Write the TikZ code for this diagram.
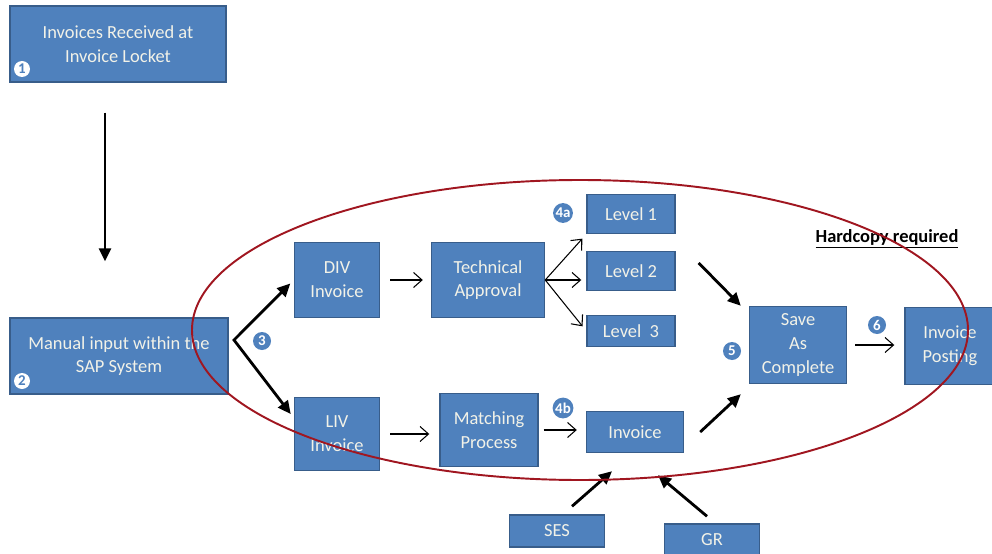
\documentclass[tikz,border=0pt]{standalone}
\usepackage{fontspec}
\setmainfont{Carlito}
\usepackage{tikz}
\usetikzlibrary{arrows.meta, positioning, shapes.geometric}

\definecolor{boxblue}{RGB}{79,129,189}
\definecolor{boxedge}{RGB}{56,93,138}
\definecolor{boxtext}{RGB}{242,242,232}
\definecolor{ringred}{RGB}{160,22,32}

\tikzset{
  box/.style={draw=boxedge, line width=0.8pt, fill=boxblue, text=boxtext, align=center,
    font=\fontsize{10.5}{13.5}\selectfont, inner sep=1pt},
  badge/.style={circle, fill=boxblue, text=white, inner sep=0.4pt, minimum size=0.36cm,
    font=\fontsize{8.5}{9}\selectfont\bfseries},
  wbadge/.style={circle, fill=white, text=boxblue, inner sep=0pt, minimum size=0.32cm,
    font=\fontsize{8.5}{9}\selectfont\bfseries},
  fat/.style={line width=1.6pt, -{Triangle[length=2.6mm,width=2.4mm]}},
  thin/.style={line width=0.6pt, -{Straight Barb[length=1.7mm,width=3mm]}},
}

\begin{document}
\begin{tikzpicture}[node distance=2cm, on grid]
  \useasboundingbox (0,0) rectangle (19.84,-11.06);
  \clip (0,0) rectangle (19.84,-11.06);

  % entry boxes
  \node[box, minimum width=4.32cm, minimum height=1.52cm] (recv) at (2.36,-0.88) {Invoices Received at\\Invoice Locket};
  \node[box, minimum width=4.36cm, minimum height=1.52cm] (manual) at (2.38,-7.12) {Manual input within the\\SAP System};
  \node[wbadge] (n1) at (0.44,-1.38) {1};
  \node[wbadge] (n2) at (0.44,-7.62) {2};

  % DIV branch
  \node[box, minimum width=1.7cm, minimum height=1.5cm] (div) at (6.74,-5.6) {DIV\\Invoice};
  \node[box, minimum width=2.26cm, minimum height=1.5cm] (tech) [right=3.02cm of div] {Technical\\Approval};
  \node[box, minimum width=1.76cm, minimum height=0.78cm] (lev1) at (12.62,-4.28) {Level 1};
  \node[box, minimum width=1.76cm, minimum height=0.78cm] (lev2) [below=1.14cm of lev1] {Level 2};
  \node[box, minimum width=1.76cm, minimum height=0.62cm] (lev3) [below=1.2cm of lev2] {Level~ 3};

  % LIV branch
  \node[box, minimum width=1.7cm, minimum height=1.46cm] (liv) [below=3.08cm of div] {LIV\\Invoice};
  \node[box, minimum width=1.96cm, minimum height=1.46cm] (match) at (9.78,-8.6) {Matching\\Process};
  \node[box, minimum width=1.94cm, minimum height=0.82cm] (inv) at (12.7,-8.64) {Invoice};
  \node[box, minimum width=1.9cm, minimum height=0.64cm] (ses) at (11.14,-10.62) {SES};
  \node[box, minimum width=1.9cm, minimum height=0.64cm] (gr) at (14.24,-10.8) {GR};

  % end of the process
  \node[box, minimum width=1.94cm, minimum height=1.54cm] (save) at (15.96,-6.9) {Save\\As\\Complete};
  \node[box, minimum width=1.8cm, minimum height=1.54cm] (post) at (19.0,-6.92) {Invoice\\Posting};

  \node[badge] (n3) at (5.24,-6.82) {3};
  \node[badge] (n4a) at (11.26,-4.26) {4a};
  \node[badge] (n4b) at (11.26,-8.16) {4b};
  \node[badge] (n5) at (14.64,-7.02) {5};
  \node[badge] (n6) at (17.54,-6.5) {6};

  \node[font=\fontsize{10.5}{12}\selectfont\bfseries] (hard) at (17.74,-4.78) {\underline{Hardcopy required}};

  \coordinate (fork) at (4.68,-6.8);

  \draw[fat, shorten <=0.6cm, shorten >=1.12cm] ([xshift=-0.26cm]recv.south) -- ([xshift=-0.28cm]manual.north);
  \draw[fat, {Triangle[length=2.6mm,width=2.4mm]}-{Triangle[length=2.6mm,width=2.4mm]}, line join=miter,
    shorten <=0.1cm, shorten >=0.1cm] (div.west) -- (fork) -- ([yshift=0.32cm]liv.west);

  \draw[thin, shorten <=0.2cm, shorten >=0.16cm] (div.east) -- (tech.west);
  \draw[thin, shorten >=0.12cm] (tech.east) -- (lev1.south west);
  \draw[thin, shorten >=0.1cm] (tech.east) -- (tech.east -| lev2.west);
  \draw[thin, shorten >=0.12cm] (tech.east) -- (lev3.west);
  \draw[thin, shorten <=0.2cm, shorten >=0.2cm] (liv.east) -- (liv.east -| match.west);
  \draw[thin, shorten <=0.1cm, shorten >=0.18cm] (match.east) -- (match.east -| inv.west);
  \draw[thin, shorten <=0.16cm, shorten >=0.2cm] (save.east) -- (save.east -| post.west);

  \draw[fat] ([xshift=0.46cm,yshift=0.16cm]lev2.east) -- ([xshift=-0.16cm]save.north west);
  \draw[fat] ([xshift=0.32cm]inv.east) -- ([xshift=-0.16cm,yshift=-0.2cm]save.south west);
  \draw[fat] ([xshift=0.3cm,yshift=0.16cm]ses.north) -- ([xshift=-0.46cm,yshift=-0.36cm]inv.south);
  \draw[fat] ([xshift=-0.1cm,yshift=0.14cm]gr.north) -- ([xshift=0.46cm,yshift=-0.44cm]inv.south);

  % scope of hardcopy
  \draw[ringred, line width=1.1pt] (11.6,-6.6) ellipse [x radius=7.76cm, y radius=3cm];
\end{tikzpicture}
\end{document}
